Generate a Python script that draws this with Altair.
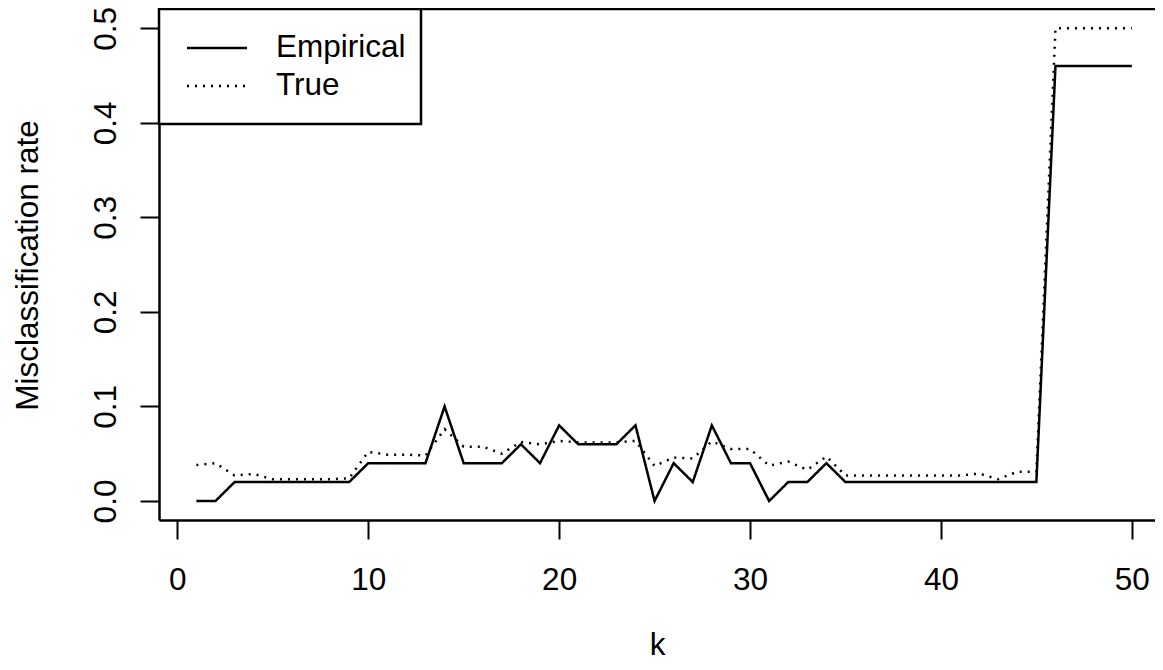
import altair as alt
import pandas as pd

k_values = list(range(1, 51))
empirical = [0.00, 0.00, 0.02, 0.02, 0.02, 0.02, 0.02, 0.02, 0.02, 0.04,
             0.04, 0.04, 0.04, 0.10, 0.04, 0.04, 0.04, 0.06, 0.04, 0.08,
             0.06, 0.06, 0.06, 0.08, 0.00, 0.04, 0.02, 0.08, 0.04, 0.04,
             0.00, 0.02, 0.02, 0.04, 0.02, 0.02, 0.02, 0.02, 0.02, 0.02,
             0.02, 0.02, 0.02, 0.02, 0.02, 0.46, 0.46, 0.46, 0.46, 0.46]
true_rate = [0.038, 0.040, 0.027, 0.0286, 0.023, 0.023, 0.023, 0.023, 0.024, 0.052,
             0.049, 0.049, 0.048, 0.076, 0.0575, 0.0575, 0.050, 0.0625, 0.060, 0.0636,
             0.062, 0.062, 0.062, 0.0636, 0.037, 0.046, 0.045, 0.063, 0.055, 0.055,
             0.0374, 0.0417, 0.033, 0.047, 0.027, 0.027, 0.027, 0.027, 0.027, 0.027,
             0.027, 0.029, 0.023, 0.031, 0.031, 0.50, 0.50, 0.50, 0.50, 0.50]
series_names = ["Empirical", "True"]
x_ticks = [0, 10, 20, 30, 40, 50]
y_ticks = [0.0, 0.1, 0.2, 0.3, 0.4, 0.5]

FONT = "Liberation Sans"
FS = 31.5
W, H = 996, 511
LW = 2.5

df = pd.DataFrame({
    "k": k_values * 2,
    "rate": empirical + true_rate,
    "series": [series_names[0]] * 50 + [series_names[1]] * 50,
})

xscale = alt.Scale(domain=[-0.96, 51.214], nice=False, zero=False)
yscale = alt.Scale(domain=[-0.0201, 0.5204], nice=False, zero=False)

lines = alt.Chart(df).mark_line(color="black", strokeWidth=LW, strokeCap="butt").encode(
    x=alt.X("k:Q", scale=xscale, title="k",
            axis=alt.Axis(values=x_ticks, format="d", tickSize=19, tickWidth=2,
                          tickColor="black", domainColor="black", domainWidth=LW,
                          labelPadding=50, labelBaseline="alphabetic",
                          labelFont=FONT, labelFontSize=FS, labelColor="black",
                          titleFont=FONT, titleFontSize=FS, titleFontWeight="normal",
                          titleColor="black", titleY=134, titleBaseline="alphabetic",
                          grid=False, labelFlush=False)),
    y=alt.Y("rate:Q", scale=yscale, title="Misclassification rate",
            axis=alt.Axis(values=y_ticks, format=".1f", tickSize=19, tickWidth=2,
                          tickColor="black", domainColor="black", domainWidth=LW,
                          labelAngle=-90, labelAlign="center", labelBaseline="alphabetic",
                          labelPadding=25,
                          labelFont=FONT, labelFontSize=FS, labelColor="black",
                          titleFont=FONT, titleFontSize=FS, titleFontWeight="normal",
                          titleColor="black", titleX=-122, titleY=256,
                          titleAlign="center", titleBaseline="alphabetic",
                          grid=False, labelFlush=False)),
    strokeDash=alt.StrokeDash("series:N", legend=None,
                              scale=alt.Scale(domain=series_names, range=[[1, 0], [2, 6]])),
    detail="series:N",
)

one = pd.DataFrame({"a": [0]})

top_border = alt.Chart(one).mark_rule(color="black", strokeWidth=LW).encode(
    x=alt.value(0), x2=alt.value(W), y=alt.value(0))

legend_box = alt.Chart(one).mark_rect(fill="white", stroke="black", strokeWidth=LW).encode(
    x=alt.value(0), x2=alt.value(262), y=alt.value(0), y2=alt.value(115))

leg_solid = alt.Chart(one).mark_rule(color="black", strokeWidth=LW).encode(
    x=alt.value(28), x2=alt.value(88), y=alt.value(39))
leg_dot = alt.Chart(one).mark_rule(color="black", strokeWidth=LW, strokeDash=[2, 6]).encode(
    x=alt.value(28), x2=alt.value(88), y=alt.value(77))

leg_text = alt.Chart(pd.DataFrame({"label": series_names, "ypos": [39, 77]})).mark_text(
    font=FONT, fontSize=FS, align="left", baseline="middle", color="black").encode(
    x=alt.value(117), y=alt.Y("ypos:Q", scale=None, axis=None),
    text="label:N")

chart = alt.layer(lines, top_border, legend_box, leg_solid, leg_dot, leg_text).properties(
    width=W, height=H,
    autosize=alt.AutoSizeParams(type="none"),
    padding={"left": 151, "top": 1, "right": 0, "bottom": 142},
).configure_view(stroke=None).configure(background="white")

chart.save("out.html", embed_options={"renderer": "svg", "actions": False})
